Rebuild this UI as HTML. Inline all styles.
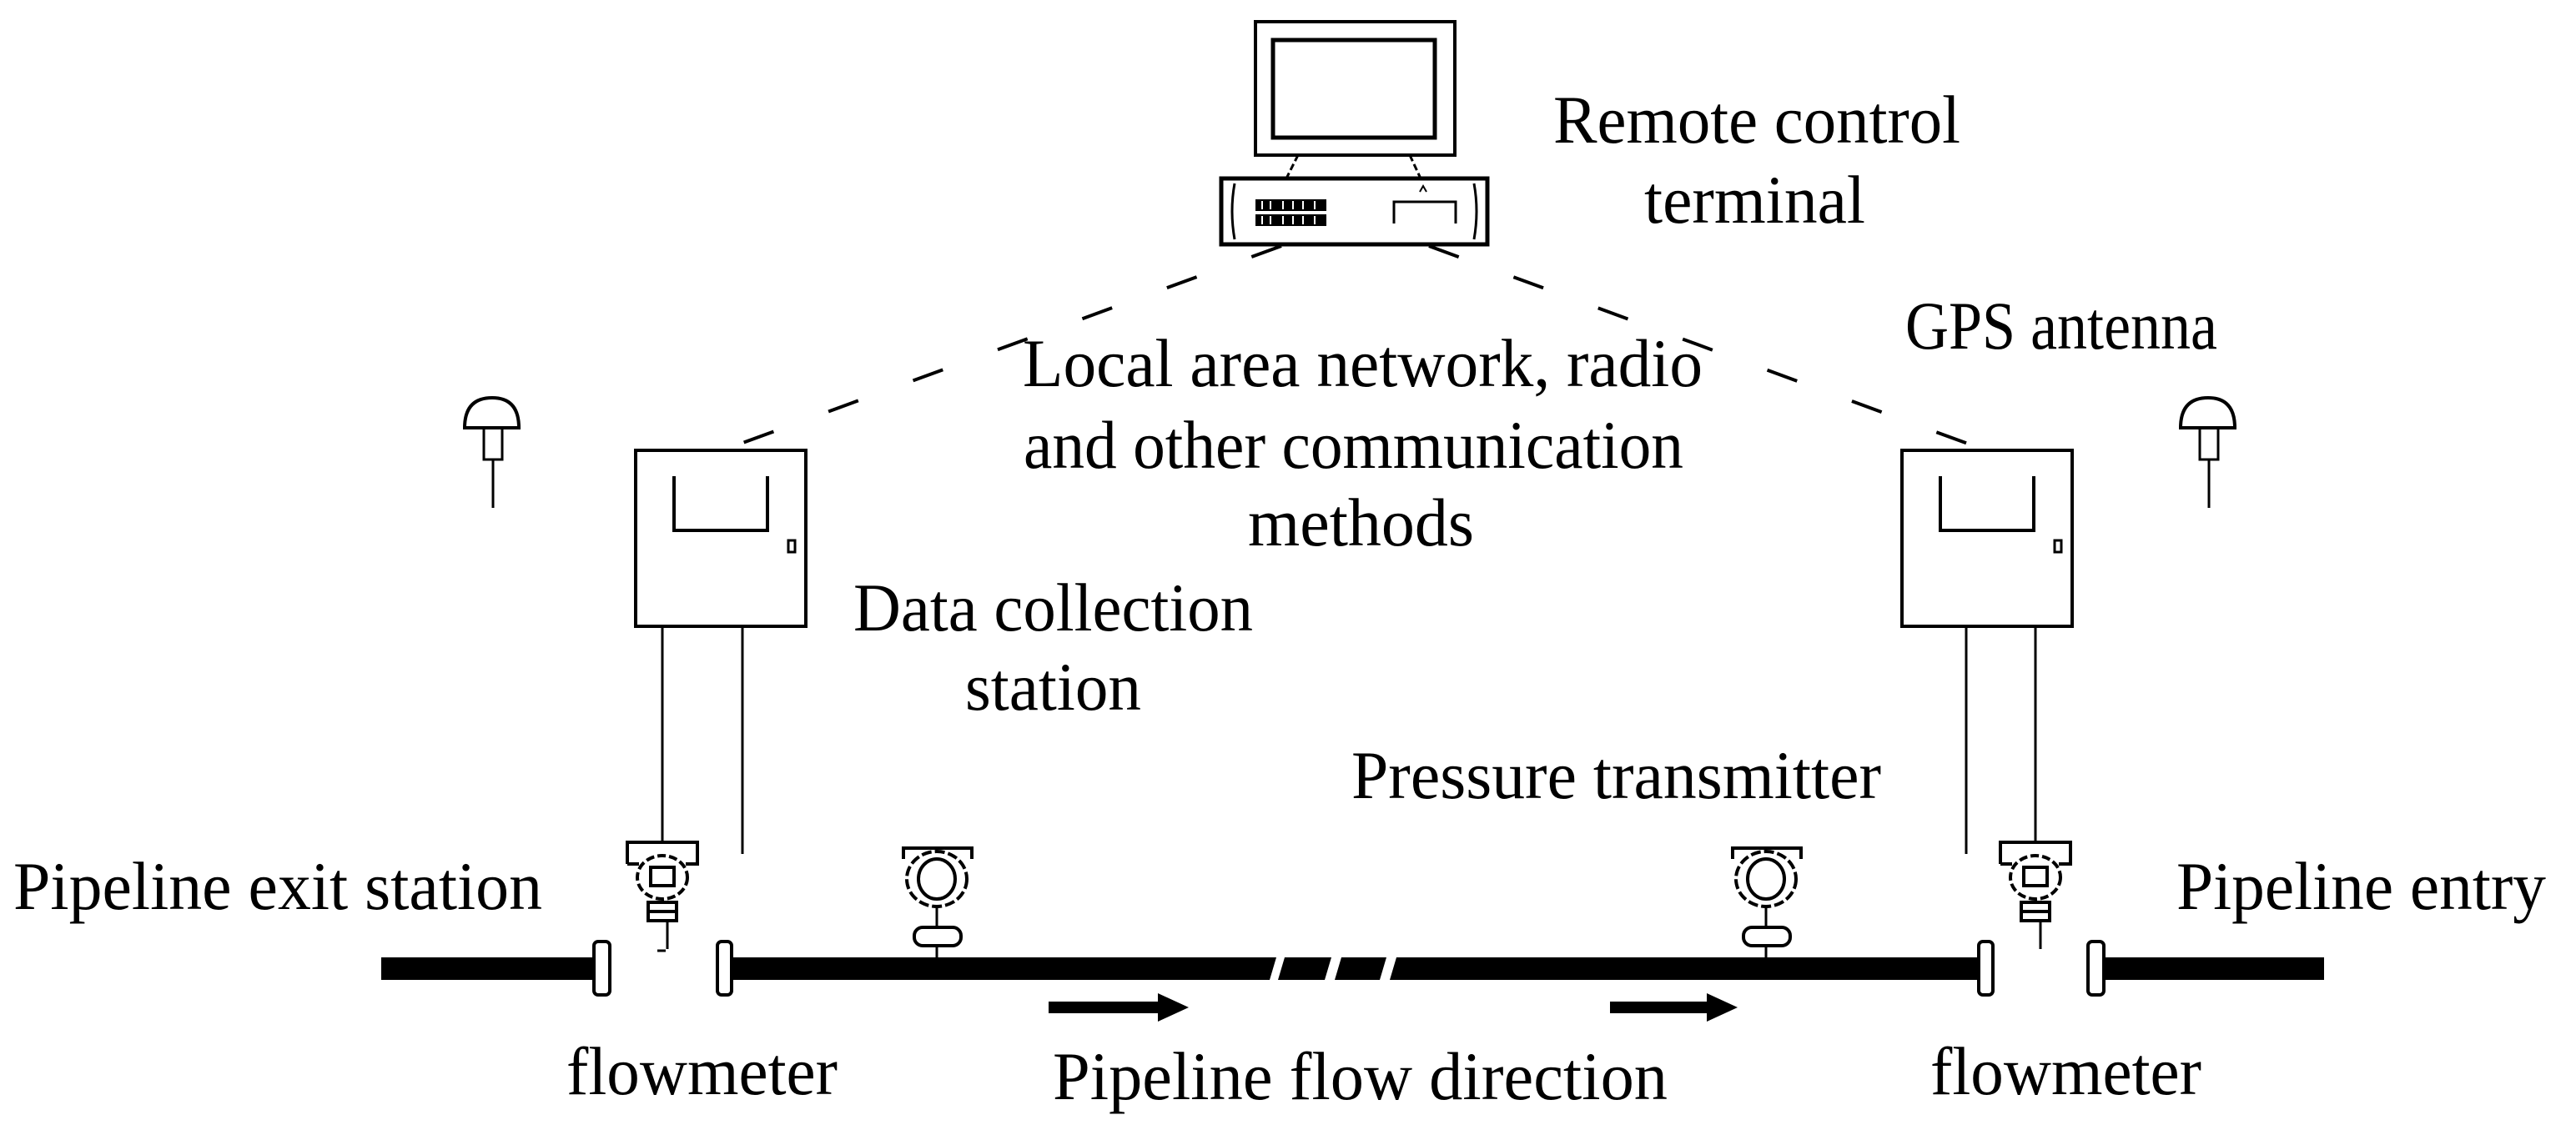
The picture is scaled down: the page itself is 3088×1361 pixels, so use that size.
<!DOCTYPE html>
<html><head><meta charset="utf-8"><style>
html,body{margin:0;padding:0;background:#fff;}
svg{display:block;}
text{font-family:"Liberation Serif","Times New Roman",serif;fill:#000;}
</style></head><body>
<svg width="3088" height="1361" viewBox="0 0 3088 1361" xmlns="http://www.w3.org/2000/svg">
<rect width="3088" height="1361" fill="#fff"/>
<g fill="none" stroke="#000" stroke-width="4">
 <!-- computer -->
 <rect x="1505" y="26" width="239" height="160"/>
 <rect x="1526" y="48" width="194" height="117" stroke-width="5"/>
 <path d="M1556 186 L1542 214 M1690 186 L1703 214" stroke-dasharray="8 4" stroke-width="3"/>
 <rect x="1464" y="214" width="319" height="79" stroke-width="5"/>
 <path d="M1480 220 Q1474 253 1480 287 M1767 220 Q1773 253 1767 287" stroke-width="3"/>
 <path d="M1671 268 V242 H1745 V268" stroke-width="3"/>
 <path d="M1702 230 L1706 223 L1710 230" stroke-width="2"/>
 <!-- dashed comm lines -->
 <path d="M1536 295 L874 537" stroke-dasharray="38 70" stroke-width="4"/>
 <path d="M1713 295 L2378 539" stroke-dasharray="38 70" stroke-width="4"/>
 <!-- left antenna -->
 <path d="M557 513 Q557 477 590 477 Q622 477 622 513 Z" stroke-width="4"/>
 <rect x="580" y="513" width="22" height="38" stroke-width="3"/>
 <line x1="591" y1="551" x2="591" y2="609" stroke-width="3"/>
 <!-- right antenna -->
 <path d="M2614 513 Q2614 477 2647 477 Q2679 477 2679 513 Z" stroke-width="4"/>
 <rect x="2637" y="513" width="22" height="38" stroke-width="3"/>
 <line x1="2648" y1="551" x2="2648" y2="609" stroke-width="3"/>
 <!-- left box -->
 <rect x="762" y="540" width="204" height="211"/>
 <path d="M808 571 V636 H920 V571"/>
 <rect x="945" y="648" width="8" height="14" stroke-width="3"/>
 <line x1="794" y1="751" x2="794" y2="1008" stroke-width="3"/>
 <line x1="890" y1="751" x2="890" y2="1024" stroke-width="3"/>
 <!-- right box -->
 <rect x="2280" y="540" width="204" height="211"/>
 <path d="M2326 571 V636 H2438 V571"/>
 <rect x="2463" y="648" width="8" height="14" stroke-width="3"/>
 <line x1="2357" y1="751" x2="2357" y2="1024" stroke-width="3"/>
 <line x1="2440" y1="751" x2="2440" y2="1008" stroke-width="3"/>
</g>
<!-- keypad -->
<g fill="#000">
 <rect x="1505" y="239" width="85" height="14"/>
 <rect x="1505" y="257" width="85" height="14"/>
</g>
<g stroke="#fff" stroke-width="2">
 <path d="M1513 241 V251 M1523 241 V251 M1538 241 V251 M1550 241 V251 M1562 241 V251 M1576 241 V251"/>
 <path d="M1513 259 V269 M1523 259 V269 M1538 259 V269 M1550 259 V269 M1562 259 V269 M1576 259 V269"/>
</g>
<!-- pipe -->
<g fill="#000">
 <rect x="457" y="1148" width="255" height="27"/>
 <polygon points="876,1148 1530,1148 1522,1175 876,1175"/>
 <polygon points="1540,1148 1596,1148 1588,1175 1532,1175"/>
 <polygon points="1608,1148 1662,1148 1654,1175 1600,1175"/>
 <polygon points="1674,1148 2372,1148 2372,1175 1666,1175"/>
 <rect x="2521" y="1148" width="265" height="27"/>
 <!-- arrows -->
 <rect x="1257" y="1201" width="135" height="14"/>
 <polygon points="1388,1191 1425,1208 1388,1225"/>
 <rect x="1930" y="1201" width="120" height="14"/>
 <polygon points="2046,1191 2083,1208 2046,1225"/>
</g>
<g fill="#fff" stroke="#000" stroke-width="4">
 <rect x="712" y="1129" width="19" height="64" rx="5"/>
 <rect x="860" y="1129" width="17" height="64" rx="5"/>
 <rect x="2372" y="1129" width="17" height="64" rx="5"/>
 <rect x="2503" y="1129" width="19" height="64" rx="5"/>
</g>
<!-- flowmeters -->
<g fill="none" stroke="#000" stroke-width="4">
 <g>
  <path d="M752 1036 V1010 H836 V1036 H822"/>
  <path d="M752 1036 H766"/>
  <ellipse cx="794" cy="1052" rx="30" ry="26" stroke-dasharray="10 4"/>
  <rect x="780" y="1040" width="28" height="22"/>
  <rect x="777" y="1082" width="34" height="22"/>
  <line x1="777" y1="1093" x2="811" y2="1093"/>
  <line x1="800" y1="1104" x2="800" y2="1138" stroke-width="3"/>
  <line x1="788" y1="1140" x2="798" y2="1140" stroke-width="3"/>
 </g>
 <g transform="translate(1646 0)">
  <path d="M752 1036 V1010 H836 V1036 H822"/>
  <path d="M752 1036 H766"/>
  <ellipse cx="794" cy="1052" rx="30" ry="26" stroke-dasharray="10 4"/>
  <rect x="780" y="1040" width="28" height="22"/>
  <rect x="777" y="1082" width="34" height="22"/>
  <line x1="777" y1="1093" x2="811" y2="1093"/>
  <line x1="800" y1="1104" x2="800" y2="1138" stroke-width="3"/>
 </g>
 <!-- pressure transmitters -->
 <g>
  <path d="M1083 1030 V1017 H1165 V1030"/>
  <ellipse cx="1123" cy="1054" rx="36" ry="33" stroke-dasharray="12 4"/>
  <ellipse cx="1123" cy="1054" rx="22" ry="24"/>
  <line x1="1123" y1="1087" x2="1123" y2="1112" stroke-width="3"/>
  <rect x="1096" y="1112" width="56" height="22" rx="10"/>
  <line x1="1123" y1="1134" x2="1123" y2="1148" stroke-width="3"/>
 </g>
 <g transform="translate(994 0)">
  <path d="M1083 1030 V1017 H1165 V1030"/>
  <ellipse cx="1123" cy="1054" rx="36" ry="33" stroke-dasharray="12 4"/>
  <ellipse cx="1123" cy="1054" rx="22" ry="24"/>
  <line x1="1123" y1="1087" x2="1123" y2="1112" stroke-width="3"/>
  <rect x="1096" y="1112" width="56" height="22" rx="10"/>
  <line x1="1123" y1="1134" x2="1123" y2="1148" stroke-width="3"/>
 </g>
</g>
<!-- texts -->
<g font-size="82">
 <text x="1862" y="171" textLength="488" lengthAdjust="spacingAndGlyphs">Remote control</text>
 <text x="1971" y="267" textLength="265" lengthAdjust="spacingAndGlyphs">terminal</text>
 <text x="2284" y="418" textLength="374" lengthAdjust="spacingAndGlyphs">GPS antenna</text>
 <text x="1226" y="463" textLength="815" lengthAdjust="spacingAndGlyphs">Local area network, radio</text>
 <text x="1227" y="561" textLength="791" lengthAdjust="spacingAndGlyphs">and other communication</text>
 <text x="1496" y="654" textLength="271" lengthAdjust="spacingAndGlyphs">methods</text>
 <text x="1023" y="756" textLength="479" lengthAdjust="spacingAndGlyphs">Data collection</text>
 <text x="1157" y="851" textLength="211" lengthAdjust="spacingAndGlyphs">station</text>
 <text x="1620" y="957" textLength="635" lengthAdjust="spacingAndGlyphs">Pressure transmitter</text>
 <text x="16" y="1090" textLength="634" lengthAdjust="spacingAndGlyphs">Pipeline exit station</text>
 <text x="2609" y="1090" textLength="443" lengthAdjust="spacingAndGlyphs">Pipeline entry</text>
 <text x="679" y="1312" textLength="325" lengthAdjust="spacingAndGlyphs">flowmeter</text>
 <text x="1262" y="1318" textLength="737" lengthAdjust="spacingAndGlyphs">Pipeline flow direction</text>
 <text x="2314" y="1312" textLength="325" lengthAdjust="spacingAndGlyphs">flowmeter</text>
</g>
</svg>
</body></html>
